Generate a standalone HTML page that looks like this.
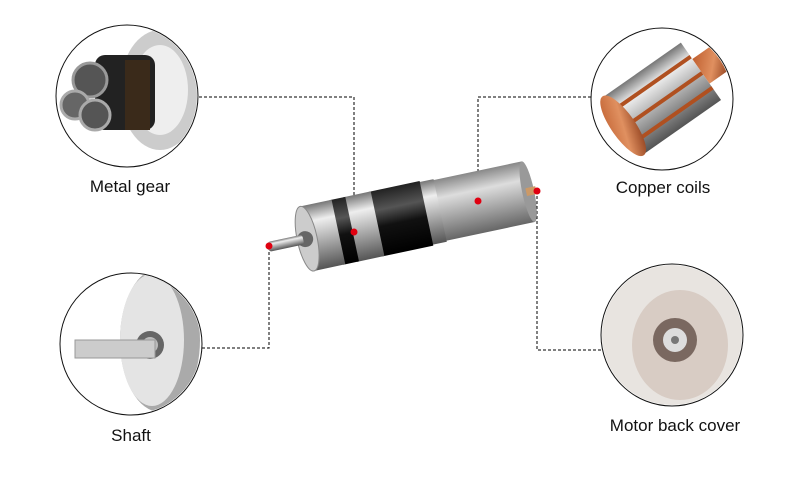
<!DOCTYPE html>
<html><head><meta charset="utf-8"><style>
body{margin:0;background:#fff;width:800px;height:480px;overflow:hidden;font-family:"Liberation Sans",sans-serif}
.l{position:absolute;font-size:17px;color:#111;transform:translateX(-50%);white-space:nowrap}
</style></head><body>
<svg width="800" height="480" style="position:absolute;left:0;top:0">
<defs>
<linearGradient id="sil" x1="0" y1="0" x2="0" y2="1"><stop offset="0" stop-color="#777"/><stop offset=".25" stop-color="#eee"/><stop offset=".5" stop-color="#bbb"/><stop offset="1" stop-color="#555"/></linearGradient>
<linearGradient id="blk" x1="0" y1="0" x2="0" y2="1"><stop offset="0" stop-color="#222"/><stop offset=".3" stop-color="#555"/><stop offset=".55" stop-color="#111"/><stop offset="1" stop-color="#000"/></linearGradient>
<linearGradient id="gry" x1="0" y1="0" x2="0" y2="1"><stop offset="0" stop-color="#888"/><stop offset=".3" stop-color="#ddd"/><stop offset=".6" stop-color="#aaa"/><stop offset="1" stop-color="#666"/></linearGradient>
<linearGradient id="cu" x1="0" y1="0" x2="1" y2="1"><stop offset="0" stop-color="#c06030"/><stop offset=".5" stop-color="#e09060"/><stop offset="1" stop-color="#803010"/></linearGradient>
<clipPath id="c1"><circle cx="127" cy="96" r="70"/></clipPath>
<clipPath id="c2"><circle cx="662" cy="99" r="70"/></clipPath>
<clipPath id="c3"><circle cx="131" cy="344" r="70"/></clipPath>
<clipPath id="c4"><circle cx="672" cy="335" r="70"/></clipPath>
</defs>
<g fill="none" stroke="#000" stroke-width="1" stroke-dasharray="3,2">
<polyline points="199,97 354,97 354,232"/>
<polyline points="591,97 478,97 478,201"/>
<polyline points="269,247 269,348 201,348"/>
<polyline points="537,191 537,350 601,350"/>
</g>
<g clip-path="url(#c1)">
<ellipse cx="160" cy="90" rx="40" ry="60" fill="#ccc"/>
<ellipse cx="160" cy="90" rx="28" ry="45" fill="#eee"/>
<rect x="95" y="55" width="60" height="75" rx="10" fill="#222"/>
<circle cx="90" cy="80" r="17" fill="#555" stroke="#999" stroke-width="3"/>
<circle cx="75" cy="105" r="14" fill="#666" stroke="#aaa" stroke-width="3"/>
<circle cx="95" cy="115" r="15" fill="#555" stroke="#aaa" stroke-width="3"/>
<rect x="125" y="60" width="25" height="70" fill="#3a2a1a"/>
</g>
<g clip-path="url(#c2)">
<g transform="rotate(-35 660 100)">
<rect x="615" y="65" width="95" height="70" fill="url(#sil)"/>
<rect x="615" y="80" width="95" height="4" fill="#b05020"/>
<rect x="615" y="100" width="95" height="4" fill="#b05020"/>
<rect x="615" y="118" width="95" height="4" fill="#b05020"/>
<ellipse cx="615" cy="100" rx="12" ry="36" fill="url(#cu)"/>
<rect x="710" y="85" width="30" height="30" fill="url(#cu)"/>
</g>
</g>
<g clip-path="url(#c3)">
<ellipse cx="160" cy="340" rx="40" ry="72" fill="#aaa"/>
<ellipse cx="152" cy="340" rx="32" ry="66" fill="#e4e4e4"/>
<circle cx="150" cy="345" r="14" fill="#666"/>
<circle cx="150" cy="345" r="8" fill="#bbb"/>
<rect x="75" y="340" width="80" height="18" fill="#ccc" stroke="#999"/>
</g>
<g clip-path="url(#c4)">
<rect x="600" y="260" width="150" height="150" fill="#e8e4e0"/>
<ellipse cx="680" cy="345" rx="48" ry="55" fill="#d8ccc4"/>
<circle cx="675" cy="340" r="22" fill="#7a6860"/>
<circle cx="675" cy="340" r="12" fill="#ddd"/>
<circle cx="675" cy="340" r="4" fill="#777"/>
</g>
<g fill="none" stroke="#111" stroke-width="1">
<circle cx="127" cy="96" r="71"/><circle cx="662" cy="99" r="71"/>
<circle cx="131" cy="344" r="71"/><circle cx="672" cy="335" r="71"/>
</g>
<g transform="translate(268,247) rotate(-12)">
<rect x="172" y="-31" width="94" height="62" fill="url(#gry)"/>
<ellipse cx="266" cy="0" rx="6" ry="31" fill="#999"/>
<rect x="264" y="-4" width="10" height="8" fill="#c96"/>
<rect x="160" y="-32" width="16" height="64" fill="url(#sil)"/>
<rect x="110" y="-33" width="52" height="66" fill="url(#blk)"/>
<rect x="84" y="-33" width="28" height="66" fill="url(#sil)"/>
<rect x="70" y="-33" width="16" height="66" fill="url(#blk)"/>
<rect x="40" y="-33" width="32" height="66" fill="url(#sil)"/>
<ellipse cx="40" cy="0" rx="10" ry="33" fill="#ccc" stroke="#888"/>
<circle cx="38" cy="0" r="8" fill="#666"/>
<rect x="0" y="-5" width="36" height="10" rx="3" fill="url(#sil)"/>
</g>
<g fill="#e00010">
<circle cx="354" cy="232" r="3.5"/><circle cx="478" cy="201" r="3.5"/>
<circle cx="269" cy="246" r="3.5"/><circle cx="537" cy="191" r="3.5"/>
</g>
</svg>
<div class="l" style="left:130px;top:177px">Metal gear</div>
<div class="l" style="left:663px;top:178px">Copper coils</div>
<div class="l" style="left:131px;top:426px">Shaft</div>
<div class="l" style="left:675px;top:416px">Motor back cover</div>
</body></html>
